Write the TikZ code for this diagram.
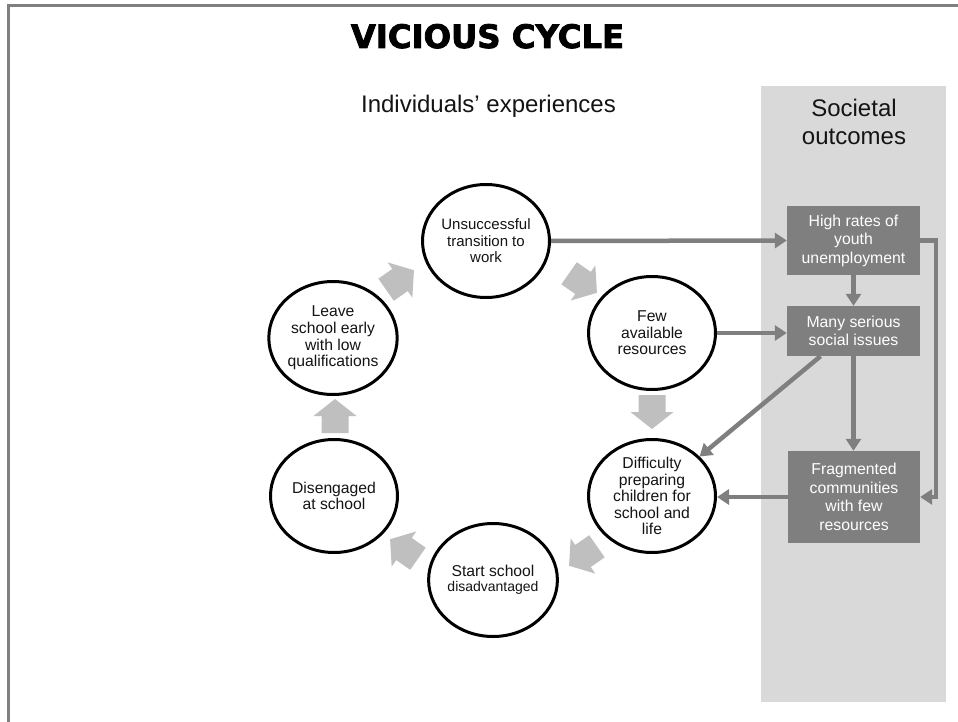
\documentclass[tikz,border=0pt]{standalone}
\usepackage{fontspec}
\setmainfont{Liberation Sans}
\newfontfamily\titlefont[FakeBold=2.5]{DejaVu Sans Bold}
\usetikzlibrary{arrows.meta,shapes.geometric}
\definecolor{framegray}{HTML}{808080}
\definecolor{panelgray}{HTML}{D9D9D9}
\definecolor{boxgray}{HTML}{7F7F7F}
\definecolor{linkgray}{HTML}{7F7F7F}
\definecolor{blockgray}{HTML}{BFBFBF}
\definecolor{textdark}{HTML}{141414}
\newcommand{\cyclearrow}[3]{\fill[blockgray,shift={(#1,#2)},rotate=#3] (-17,-13.5) -- (0,-13.5) -- (0,-21.5) -- (17,0) -- (0,21.5) -- (0,13.5) -- (-17,13.5) -- cycle;}
\tikzset{
  stage/.style={ellipse, draw=black, line width=3pt, fill=white, minimum width=127pt, minimum height=113pt, inner sep=0pt, align=center, text=textdark, font=\fontsize{15.7}{16.6}\selectfont},
  outcome/.style={rectangle, fill=boxgray, text=white, minimum width=133pt, inner sep=0pt, align=center, font=\fontsize{15.8}{18.5}\selectfont},
  link/.style={draw=linkgray, line width=4.5pt, -{Triangle[length=12pt,width=15pt]}},
}
\begin{document}
\begin{tikzpicture}[x=1pt,y=-1pt]
\useasboundingbox (0,0) rectangle (958,722);
\fill[white] (0,0) rectangle (958,722);
% frame
\draw[framegray, line width=2.5pt] (8.5,722) -- (8.5,5.3) -- (958,5.3);
% panel
\fill[panelgray] (761,86) rectangle (946,702);
% headings
\node[anchor=base, inner sep=0pt, font=\titlefont\fontsize{32.3}{34}\selectfont] (title) at (487.5,48) {VICIOUS CYCLE};
\node[anchor=base, inner sep=0pt, text=textdark, font=\fontsize{24}{28}\selectfont] (indiv) at (488.5,113) {Individuals’ experiences};
\node[anchor=base, inner sep=0pt, text=textdark, font=\fontsize{24}{28}\selectfont] (soc1) at (854,117) {Societal};
\node[anchor=base, inner sep=0pt, text=textdark, font=\fontsize{24}{28}\selectfont] (soc2) at (854,145) {outcomes};
% cycle stages
\node[stage, font=\fontsize{15}{16.5}\selectfont] (U) at (486,241) {Unsuccessful\\transition to\\work};
\node[stage] (F) at (652,333) {Few\\available\\resources};
\node[stage] (D) at (652,496) {Difficulty\\preparing\\children for\\school and\\life};
\node[stage, font=\fontsize{15.7}{15.5}\selectfont] (S) at (493,580) {Start school\\{\fontsize{14}{15.5}\selectfont disadvantaged}};
\node[stage] (G) at (334,496) {Disengaged\\at school};
\node[stage] (L) at (333,338) {Leave\\school early\\with low\\qualifications};
% cycle arrows
\cyclearrow{400}{280}{35}
\cyclearrow{583}{283}{-35}
\cyclearrow{652}{412}{-90}
\cyclearrow{583}{556}{-145}
\cyclearrow{404}{549}{145}
\cyclearrow{335}{416}{90}
% outcomes
\node[outcome, minimum height=69pt] (H) at (853.5,240.5) {High rates of\\youth\\unemployment};
\node[outcome, minimum height=50pt] (M) at (853.5,331) {Many serious\\social issues};
\node[outcome, minimum width=132pt, minimum height=92pt] (Fr) at (854,497) {Fragmented\\communities\\with few\\resources};
% links
\draw[link] (U.east) -- (H.west);
\draw[link] (F.east) -- (F.east -| M.west);
\draw[link] (H.south) -- (M.north);
\draw[link] (M.south) -- (M.south |- Fr.north);
\draw[link] ([xshift=-33pt]M.south) -- (D);
\draw[link] (Fr.west) -- (Fr.west -| D.east);
\draw[link] (H.east) -- ++(16,0) |- (Fr.east);
\end{tikzpicture}
\end{document}
